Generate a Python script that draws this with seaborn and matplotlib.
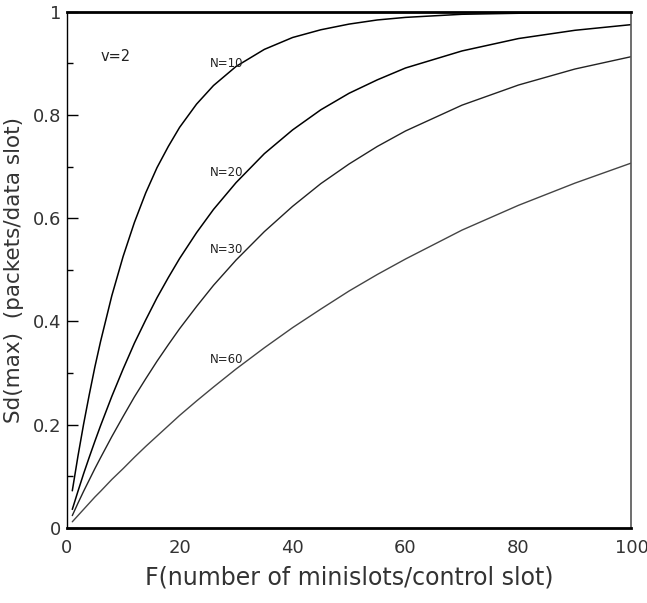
import matplotlib
matplotlib.use("Agg")
import matplotlib.pyplot as plt
import seaborn as sns
import pandas as pd
from matplotlib.ticker import MultipleLocator

F = [1, 2, 3, 4, 5, 6, 8, 10, 12, 14, 16, 18, 20, 23, 26, 30, 35, 40, 45, 50, 55, 60, 70, 80, 90, 100]
sd_n10 = [0.072, 0.139, 0.201, 0.258, 0.312, 0.361, 0.450, 0.526, 0.592, 0.649, 0.698, 0.739, 0.776,
          0.821, 0.857, 0.894, 0.927, 0.950, 0.965, 0.976, 0.984, 0.989, 0.995, 0.997, 0.999, 0.999]
sd_n20 = [0.036, 0.071, 0.105, 0.137, 0.168, 0.198, 0.255, 0.308, 0.358, 0.403, 0.446, 0.485, 0.522,
          0.572, 0.617, 0.669, 0.725, 0.771, 0.810, 0.842, 0.868, 0.891, 0.924, 0.948, 0.964, 0.975]
sd_n30 = [0.024, 0.048, 0.071, 0.093, 0.115, 0.136, 0.177, 0.216, 0.254, 0.289, 0.323, 0.355, 0.386,
          0.429, 0.470, 0.519, 0.574, 0.623, 0.667, 0.705, 0.739, 0.769, 0.819, 0.858, 0.889, 0.913]
sd_n60 = [0.012, 0.024, 0.036, 0.048, 0.060, 0.071, 0.094, 0.115, 0.137, 0.158, 0.178, 0.198, 0.218,
          0.246, 0.273, 0.308, 0.349, 0.388, 0.424, 0.459, 0.491, 0.521, 0.577, 0.625, 0.668, 0.707]
series_names = ["N=10", "N=20", "N=30", "N=60"]
label_pos = [(25.4, 0.900), (25.4, 0.688), (25.4, 0.539), (25.4, 0.326)]
x_ticks = [0, 20, 40, 60, 80, 100]
y_ticks = [0, 0.2, 0.4, 0.6, 0.8, 1]
y_tick_labels = ["0", "0.2", "0.4", "0.6", "0.8", "1"]

sns.set_style("white")
plt.rcParams['font.family'] = ['DejaVu Sans']

fig = plt.figure(figsize=(6.47, 6.03), dpi=100)
ax = fig.add_axes([0.103, 0.1244, 0.873, 0.8562])

styles = [dict(color="black", lw=1.1), dict(color="black", lw=1.1),
          dict(color="#222222", lw=1.0), dict(color="#444444", lw=1.0)]
for name, vals, st in zip(series_names, [sd_n10, sd_n20, sd_n30, sd_n60], styles):
    df = pd.DataFrame({"F": F, "Sd": vals})
    sns.lineplot(data=df, x="F", y="Sd", ax=ax, **st)

for name, (lx, ly) in zip(series_names, label_pos):
    ax.text(lx, ly, name, fontsize=8.5, color="#222222", va="center", ha="left")
ax.text(6.0, 0.913, "v=2", fontsize=10.5, color="#222222", va="center", ha="left")

ax.set_xlim(0, 100)
ax.set_ylim(0, 1)
ax.set_xticks(x_ticks)
ax.set_xticklabels([str(t) for t in x_ticks])
ax.set_yticks(y_ticks)
ax.set_yticklabels(y_tick_labels)
ax.yaxis.set_minor_locator(MultipleLocator(0.1))
ax.tick_params(axis="y", which="major", direction="in", length=8, width=1, color="black",
               labelsize=13, labelcolor="#333333", pad=4, left=True)
ax.tick_params(axis="y", which="minor", direction="in", length=4, width=1, color="black", left=True)
ax.tick_params(axis="x", which="both", length=0, labelsize=13, labelcolor="#333333", pad=8)

for side in ["bottom", "top"]:
    ax.spines[side].set_linewidth(2.0)
    ax.spines[side].set_color("black")
ax.spines["left"].set_linewidth(1.0)
ax.spines["left"].set_color("black")
ax.spines["right"].set_linewidth(1.2)
ax.spines["right"].set_color("#555555")
for s in ax.spines.values():
    s.set_visible(True)

ax.set_xlabel("F(number of minislots/control slot)", fontsize=17, color="#333333", labelpad=6)
ax.set_ylabel("Sd(max)  (packets/data slot)", fontsize=15.5, color="#333333", labelpad=6)

fig.savefig("out.png", dpi=100)
